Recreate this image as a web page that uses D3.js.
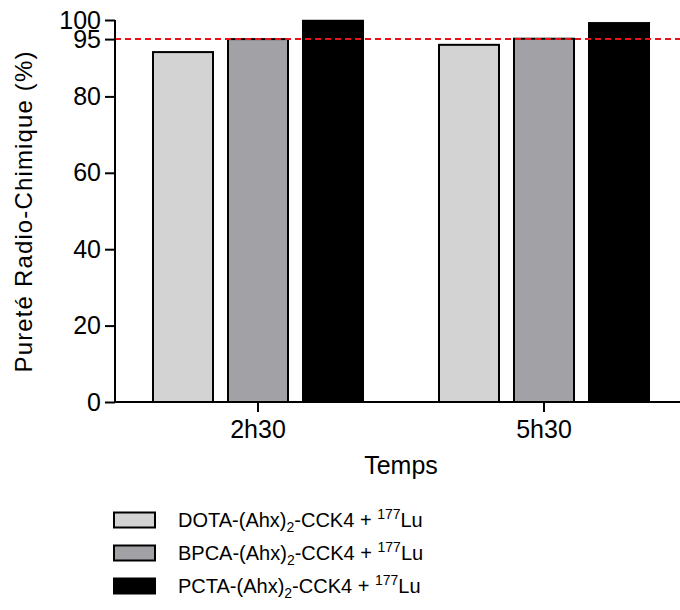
<!DOCTYPE html>
<html>
<head>
<meta charset="utf-8">
<script src="https://cdn.jsdelivr.net/npm/d3@7"></script>
<style>
  html, body { margin: 0; padding: 0; background: #fff; }
  text { font-family: "Liberation Sans", Arial, Helvetica, sans-serif; fill: #000; }
</style>
</head>
<body>
<svg id="chart" width="680" height="610"></svg>
<script>
const categories = ["2h30", "5h30"];
const seriesNames = ["DOTA", "BPCA", "PCTA"];
const seriesPrefixes = ["DOTA-(Ahx)", "BPCA-(Ahx)", "PCTA-(Ahx)"];
const dotaValues = [91.6, 93.5];
const bpcaValues = [95.0, 95.1];
const pctaValues = [99.8, 99.2];
const seriesColors = ["#d3d3d3", "#a2a1a6", "#000000"];
const yTicks = [0, 20, 40, 60, 80, 95, 100];
const thresholdValue = 95;

const seriesValues = [dotaValues, bpcaValues, pctaValues];

const svg = d3.select("#chart");
const axisX0 = 115, axisX1 = 687, axisY0 = 402, axisY1 = 20;

const y = d3.scaleLinear().domain([0, 100]).range([axisY0, axisY1]);
const x = d3.scaleBand().domain(categories).range([axisX0, axisX1]);
const xi = d3.scaleBand().domain(seriesNames).range([-105, 105]).paddingInner(0.2);

// bars
categories.forEach((cat, ci) => {
  seriesNames.forEach((s, si) => {
    const v = seriesValues[si][ci];
    svg.append("rect")
      .attr("x", x(cat) + x.bandwidth() / 2 + xi(s))
      .attr("y", y(v))
      .attr("width", xi.bandwidth())
      .attr("height", y(0) - y(v))
      .attr("fill", seriesColors[si])
      .attr("stroke", "#000")
      .attr("stroke-width", 2);
  });
});

// threshold line
svg.append("line")
  .attr("x1", axisX0).attr("x2", 680)
  .attr("y1", y(thresholdValue)).attr("y2", y(thresholdValue))
  .attr("stroke", "#e8141b").attr("stroke-width", 2)
  .attr("stroke-dasharray", "6,4");

// y axis
const yAxis = svg.append("g")
  .attr("transform", `translate(${axisX0},0)`)
  .call(d3.axisLeft(y).tickValues(yTicks).tickSize(10).tickPadding(4).tickFormat(d3.format("d")));
yAxis.select(".domain").attr("stroke", "#000").attr("stroke-width", 2)
  .attr("d", `M0,${axisY1}V${axisY0}`);
yAxis.selectAll(".tick line").attr("stroke", "#000").attr("stroke-width", 2);
yAxis.selectAll(".tick text").style("font-size", "25px").style("font-family", "Liberation Sans, Arial, sans-serif").attr("fill", "#000");

// x axis
const xAxis = svg.append("g")
  .attr("transform", `translate(0,${axisY0})`)
  .call(d3.axisBottom(x).tickSize(10).tickPadding(8));
xAxis.select(".domain").attr("stroke", "#000").attr("stroke-width", 2)
  .attr("d", `M${axisX0},0H${axisX1}`);
xAxis.selectAll(".tick line").attr("stroke", "#000").attr("stroke-width", 2);
xAxis.selectAll(".tick text").style("font-size", "25px").style("font-family", "Liberation Sans, Arial, sans-serif").attr("fill", "#000");

// axis titles
svg.append("text")
  .attr("x", x(categories[0]) + x.bandwidth())
  .attr("y", 474)
  .attr("text-anchor", "middle")
  .style("font-size", "25px")
  .text("Temps");

svg.append("text")
  .attr("transform", `translate(32,${(axisY0 + axisY1) / 2 + 1}) rotate(-90)`)
  .attr("text-anchor", "middle")
  .style("font-size", "24px")
  .attr("textLength", 321)
  .text("Pureté Radio-Chimique (%)");

// legend
const legendY = [520, 553, 586];
seriesNames.forEach((s, i) => {
  const g = svg.append("g").attr("transform", `translate(0,${legendY[i]})`);
  g.append("rect")
    .attr("x", 114).attr("y", -7.5)
    .attr("width", 41).attr("height", 15)
    .attr("fill", seriesColors[i])
    .attr("stroke", "#000").attr("stroke-width", 2);
  const t = g.append("text")
    .attr("x", 178).attr("y", 7)
    .style("font-size", "20px");
  t.append("tspan").text(seriesPrefixes[i]);
  t.append("tspan").attr("dy", 5).style("font-size", "14px").text("2");
  t.append("tspan").attr("dy", -5).text("-CCK4 + ");
  t.append("tspan").attr("dy", -8).style("font-size", "14px").text("177");
  t.append("tspan").attr("dy", 8).text("Lu");
});
</script>
</body>
</html>
